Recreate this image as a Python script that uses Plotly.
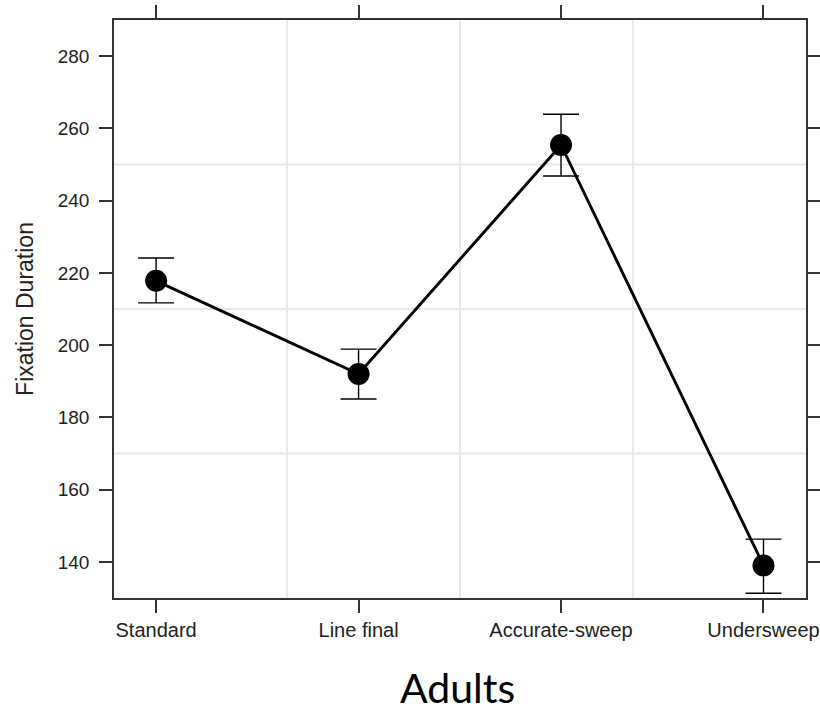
import plotly.graph_objects as go

categories = ["Standard", "Line final", "Accurate-sweep", "Undersweep"]
means = [217.8, 192.0, 255.4, 139.0]
upper = [224.1, 198.9, 263.9, 146.3]
lower = [211.7, 185.1, 246.8, 131.3]
y_ticks = [140, 160, 180, 200, 220, 240, 260, 280]

err_plus = [u - m for u, m in zip(upper, means)]
err_minus = [m - l for m, l in zip(means, lower)]
xs = list(range(len(categories)))

fig = go.Figure()
fig.add_trace(go.Scatter(
    x=xs, y=means, mode="lines+markers",
    line=dict(color="black", width=2.9),
    marker=dict(color="black", size=22),
    error_y=dict(type="data", symmetric=False, array=err_plus, arrayminus=err_minus,
                 color="black", thickness=1.4, width=18),
    showlegend=False, cliponaxis=False,
))

# light grid at quarter divisions of the panel
shapes = []
for f in (0.25, 0.5, 0.75):
    shapes.append(dict(type="line", xref="x domain", yref="y domain", x0=f, x1=f, y0=0, y1=1,
                       line=dict(color="#e8e8e8", width=2), layer="below"))
    shapes.append(dict(type="line", xref="x domain", yref="y domain", x0=0, x1=1, y0=f, y1=f,
                       line=dict(color="#e8e8e8", width=2), layer="below"))

fig.update_layout(
    width=820, height=714,
    margin=dict(l=114, r=14, t=20, b=116, autoexpand=False),
    paper_bgcolor="white", plot_bgcolor="white",
    font=dict(family="Liberation Sans, Arial", color="#222"),
    shapes=shapes,
    xaxis=dict(
        range=[-0.208, 3.21], tickmode="array", tickvals=xs, ticktext=categories,
        showgrid=False, zeroline=False, showline=True, linecolor="#333", linewidth=1.5,
        mirror="allticks", ticks="outside", ticklen=13, tickcolor="#333", tickwidth=1.5,
        tickfont=dict(size=20, color="#222"), automargin=False,
    ),
    yaxis=dict(
        range=[130, 290], tickmode="array", tickvals=y_ticks,
        showgrid=False, zeroline=False, showline=True, linecolor="#333", linewidth=1.5,
        mirror="allticks", ticks="outside", ticklen=13, tickcolor="#333", tickwidth=1.5,
        tickfont=dict(size=19, color="#222"), automargin=False, ticklabelstandoff=6,
        title=dict(text="Fixation Duration", font=dict(size=23, color="#222"), standoff=18),
    ),
    annotations=[dict(text="Adults", xref="paper", yref="paper", x=0.497, y=-0.1557,
                      xanchor="center", yanchor="middle", showarrow=False,
                      font=dict(family="Lato, Open Sans", size=41, color="black"))],
)

fig.write_html("out.html")
